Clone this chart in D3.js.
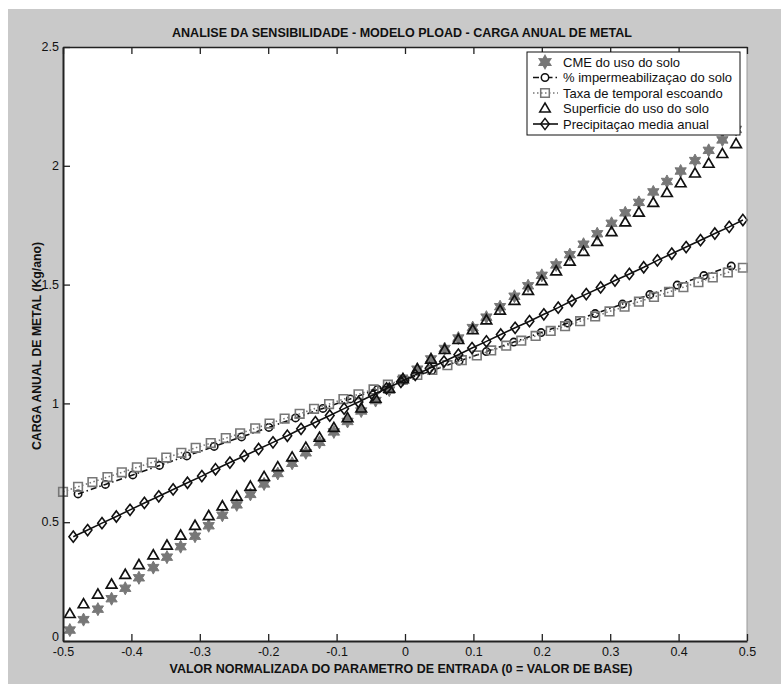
<html>
<head>
<meta charset="utf-8">
<script src="https://d3js.org/d3.v7.min.js"></script>
<style>
  body { margin: 0; background: #fff; }
  svg text { font-family: "Liberation Sans", Arial, sans-serif; }
</style>
</head>
<body>
<svg id="chart" width="781" height="684"></svg>
<script>
// x positions of each series (normalized input parameter)
var xCME = [-0.490,-0.470,-0.449,-0.429,-0.409,-0.389,-0.368,-0.348,-0.328,-0.307,-0.287,-0.267,-0.246,-0.226,-0.206,-0.186,-0.165,-0.145,-0.125,-0.104,-0.084,-0.064,-0.043,-0.023,-0.003,0.018,0.038,0.058,0.078,0.099,0.119,0.139,0.160,0.180,0.200,0.221,0.241,0.261,0.281,0.302,0.322,0.342,0.363,0.383,0.403,0.424,0.444,0.464,0.484];
var yCME = [0.046,0.090,0.134,0.178,0.222,0.266,0.309,0.353,0.397,0.441,0.485,0.529,0.573,0.617,0.661,0.705,0.748,0.792,0.836,0.880,0.924,0.968,1.012,1.056,1.100,1.144,1.187,1.231,1.275,1.319,1.363,1.407,1.451,1.495,1.539,1.583,1.626,1.670,1.714,1.758,1.802,1.846,1.890,1.934,1.978,2.022,2.065,2.109,2.153];

var xSup = xCME;
var ySup = [0.114,0.155,0.196,0.238,0.279,0.320,0.361,0.402,0.444,0.485,0.526,0.567,0.608,0.650,0.691,0.732,0.773,0.814,0.856,0.897,0.938,0.979,1.020,1.062,1.103,1.144,1.185,1.226,1.268,1.309,1.350,1.391,1.432,1.474,1.515,1.556,1.597,1.638,1.680,1.721,1.762,1.803,1.844,1.886,1.927,1.968,2.009,2.050,2.092];

var xImp = [-0.478,-0.438,-0.398,-0.359,-0.319,-0.279,-0.239,-0.199,-0.160,-0.120,-0.080,-0.040,0.000,0.039,0.079,0.119,0.159,0.199,0.238,0.278,0.318,0.358,0.398,0.437,0.477];
var yImp = [0.619,0.659,0.699,0.739,0.779,0.819,0.859,0.899,0.939,0.979,1.019,1.059,1.099,1.138,1.178,1.218,1.258,1.298,1.338,1.378,1.418,1.458,1.498,1.538,1.578];

var xTaxa = [-0.500,-0.478,-0.457,-0.435,-0.414,-0.392,-0.370,-0.349,-0.327,-0.306,-0.284,-0.262,-0.241,-0.219,-0.198,-0.176,-0.154,-0.133,-0.111,-0.090,-0.068,-0.046,-0.025,-0.003,0.018,0.040,0.062,0.083,0.105,0.126,0.148,0.170,0.191,0.213,0.234,0.256,0.278,0.299,0.321,0.342,0.364,0.386,0.407,0.429,0.450,0.472,0.494];
var yTaxa = [0.628,0.649,0.669,0.690,0.710,0.731,0.751,0.772,0.792,0.813,0.833,0.854,0.874,0.895,0.915,0.936,0.956,0.977,0.997,1.018,1.038,1.059,1.079,1.100,1.120,1.141,1.161,1.182,1.202,1.223,1.243,1.264,1.284,1.305,1.325,1.346,1.366,1.387,1.407,1.428,1.448,1.469,1.489,1.510,1.530,1.551,1.571];

var xPrec = [-0.485,-0.464,-0.443,-0.422,-0.402,-0.381,-0.360,-0.339,-0.318,-0.297,-0.277,-0.256,-0.235,-0.214,-0.193,-0.172,-0.152,-0.131,-0.110,-0.089,-0.068,-0.047,-0.027,-0.006,0.015,0.036,0.057,0.078,0.098,0.119,0.140,0.161,0.182,0.203,0.224,0.244,0.265,0.286,0.307,0.328,0.349,0.369,0.390,0.411,0.432,0.453,0.474,0.494];
var yPrec = [0.439,0.467,0.496,0.524,0.552,0.581,0.609,0.638,0.666,0.694,0.723,0.751,0.779,0.808,0.836,0.864,0.893,0.921,0.949,0.978,1.006,1.035,1.063,1.091,1.120,1.148,1.176,1.205,1.233,1.261,1.290,1.318,1.346,1.375,1.403,1.432,1.460,1.488,1.517,1.545,1.573,1.602,1.630,1.658,1.687,1.715,1.743,1.772];

var seriesNames = ["CME do uso do solo", "% impermeabilizaçao do solo", "Taxa de temporal escoando", "Superficie do uso do solo", "Precipitaçao media anual"];
var xTicks = [-0.5,-0.4,-0.3,-0.2,-0.1,0,0.1,0.2,0.3,0.4,0.5];
var xTickLabels = ["-0.5","-0.4","-0.3","-0.2","-0.1","0","0.1","0.2","0.3","0.4","0.5"];
var yTicks = [0,0.5,1,1.5,2,2.5];
var yTickLabels = ["0","0.5","1","1.5","2","2.5"];

var svg = d3.select("#chart");
var L = 63, T = 47, W = 684, H = 594;

svg.append("rect").attr("x", 8).attr("y", 9).attr("width", 773).attr("height", 675).attr("fill", "#c9c9c9");

var xs = d3.scaleLinear().domain([-0.5, 0.5]).range([L, L + W]);
var ys = d3.scaleLinear().domain([0, 2.5]).range([T + H, T]);

svg.append("rect").attr("x", L).attr("y", T).attr("width", W).attr("height", H).attr("fill", "#fff");

// marker shapes
function hexagram(r) {
  var p = [];
  for (var i = 0; i < 12; i++) {
    var a = Math.PI / 6 * i - Math.PI / 2;
    var rr = (i % 2 == 0) ? r : r * 0.55;
    p.push([Math.cos(a) * rr, Math.sin(a) * rr]);
  }
  return "M" + p.map(function (q) { return q[0].toFixed(2) + "," + q[1].toFixed(2); }).join("L") + "Z";
}
var starPath = hexagram(6.5);
var triPath = "M0,-5.5L5.3,3.6L-5.3,3.6Z";
var sqPath = "M-4.3,-4.3L4.3,-4.3L4.3,4.3L-4.3,4.3Z";
var diaPath = "M0,-5.6L4.3,0L0,5.6L-4.3,0Z";

var plot = svg.append("g");

function zip(xa, ya) { return xa.map(function (x, i) { return [x, ya[i]]; }); }
var line = d3.line().x(function (d) { return xs(d[0]); }).y(function (d) { return ys(d[1]); });

function drawMarkers(data, path, fill, stroke, sw) {
  plot.append("g").selectAll("path").data(data).enter().append("path")
    .attr("d", path)
    .attr("transform", function (d) { return "translate(" + xs(d[0]) + "," + ys(d[1]) + ")"; })
    .attr("fill", fill).attr("stroke", stroke).attr("stroke-width", sw);
}

// CME - gray stars
drawMarkers(zip(xCME, yCME), starPath, "#777", "#777", 1);

// % impermeabilizacao - dash-dot with circles
var dImp = zip(xImp, yImp);
plot.append("path").datum(dImp).attr("d", line).attr("fill", "none")
  .attr("stroke", "#111").attr("stroke-width", 1.6).attr("stroke-dasharray", "6,3,1.5,3");
plot.append("g").selectAll("circle").data(dImp).enter().append("circle")
  .attr("cx", function (d) { return xs(d[0]); }).attr("cy", function (d) { return ys(d[1]); })
  .attr("r", 3.7).attr("fill", "none").attr("stroke", "#111").attr("stroke-width", 1.6);

// Taxa de temporal - dotted gray with squares
var dTaxa = zip(xTaxa, yTaxa);
plot.append("path").datum(dTaxa).attr("d", line).attr("fill", "none")
  .attr("stroke", "#777").attr("stroke-width", 1.6).attr("stroke-dasharray", "1.5,2.5");
drawMarkers(dTaxa, sqPath, "none", "#777", 1.6);

// Superficie - black triangles
drawMarkers(zip(xSup, ySup), triPath, "none", "#111", 1.7);

// Precipitacao - solid black with diamonds
var dPrec = zip(xPrec, yPrec);
plot.append("path").datum(dPrec).attr("d", line).attr("fill", "none")
  .attr("stroke", "#111").attr("stroke-width", 1.6);
drawMarkers(dPrec, diaPath, "none", "#111", 1.6);

// right box edge
svg.append("line").attr("x1", L + W).attr("x2", L + W).attr("y1", T).attr("y2", T + H)
  .attr("stroke", "#999").attr("stroke-width", 1);

// axes
var xAxis = svg.append("g").attr("transform", "translate(0," + (T + H) + ")")
  .call(d3.axisBottom(xs).tickValues(xTicks).tickFormat(function (d, i) { return xTickLabels[i]; })
    .tickSizeInner(-7).tickSizeOuter(0).tickPadding(6));
var xTop = svg.append("g").attr("transform", "translate(0," + T + ")")
  .call(d3.axisTop(xs).tickValues(xTicks).tickFormat("").tickSizeInner(-7).tickSizeOuter(0));
var yAxis = svg.append("g").attr("transform", "translate(" + L + ",0)")
  .call(d3.axisLeft(ys).tickValues(yTicks).tickFormat(function (d, i) { return yTickLabels[i]; })
    .tickSizeInner(-7).tickSizeOuter(0).tickPadding(4));

[xAxis, xTop, yAxis].forEach(function (g) {
  g.select(".domain").attr("stroke", "#222").attr("stroke-width", 2);
  g.selectAll(".tick line").attr("stroke", "#222").attr("stroke-width", 1.3);
  g.selectAll(".tick text").attr("fill", "#111").style("font-size", "12.5px")
    .style("font-family", "'Liberation Sans', Arial, sans-serif");
});
yAxis.selectAll(".tick text").attr("dy", function (d, i) { return i == 0 ? "-0.05em" : "0.3em"; });
xAxis.selectAll(".tick text").attr("dy", "0.72em");
xTop.select(".domain").attr("stroke-width", 1.5);

// title and labels
svg.append("text").attr("x", 402).attr("y", 37).attr("text-anchor", "middle")
  .style("font-size", "12px").style("font-weight", "bold").attr("fill", "#111")
  .attr("textLength", 460).attr("lengthAdjust", "spacingAndGlyphs")
  .text("ANALISE DA SENSIBILIDADE - MODELO PLOAD - CARGA ANUAL DE METAL");
svg.append("text").attr("x", 401).attr("y", 673).attr("text-anchor", "middle")
  .style("font-size", "12px").style("font-weight", "bold").attr("fill", "#111")
  .attr("textLength", 463).attr("lengthAdjust", "spacingAndGlyphs")
  .text("VALOR NORMALIZADA DO PARAMETRO DE ENTRADA (0 = VALOR DE BASE)");
svg.append("text").attr("transform", "translate(41,346) rotate(-90)").attr("text-anchor", "middle")
  .style("font-size", "12px").style("font-weight", "bold").attr("fill", "#111")
  .attr("textLength", 208).attr("lengthAdjust", "spacingAndGlyphs")
  .text("CARGA ANUAL DE METAL (Kg/ano)");

// legend
var lg = svg.append("g").attr("transform", "translate(527,52)");
lg.append("rect").attr("width", 213).attr("height", 83).attr("fill", "#fff").attr("stroke", "#111").attr("stroke-width", 1);
var rowY = [10, 25.5, 41, 56.5, 72];
var legendMarks = [
  { path: starPath, fill: "#777", stroke: "#777", line: null },
  { path: null, fill: "none", stroke: "#111", line: { c: "#111", dash: "6,3,1.5,3" } },
  { path: sqPath, fill: "none", stroke: "#777", line: { c: "#777", dash: "1.5,2.5" } },
  { path: triPath, fill: "none", stroke: "#111", line: null },
  { path: diaPath, fill: "none", stroke: "#111", line: { c: "#111", dash: null } }
];
seriesNames.forEach(function (name, i) {
  var m = legendMarks[i];
  var row = lg.append("g").attr("transform", "translate(0," + rowY[i] + ")");
  if (m.line) {
    row.append("line").attr("x1", 6).attr("x2", 31).attr("stroke", m.line.c).attr("stroke-width", 1.6)
      .attr("stroke-dasharray", m.line.dash);
  }
  if (m.path) {
    row.append("path").attr("d", m.path).attr("transform", "translate(18,0)")
      .attr("fill", m.fill).attr("stroke", m.stroke).attr("stroke-width", 1.5);
  } else {
    row.append("circle").attr("cx", 18).attr("r", 3.7).attr("fill", "#fff").attr("stroke", "#111").attr("stroke-width", 1.5);
  }
  row.append("text").attr("x", 36).attr("y", 4.5).style("font-size", "13px").attr("fill", "#111").text(name);
});
</script>
</body>
</html>
